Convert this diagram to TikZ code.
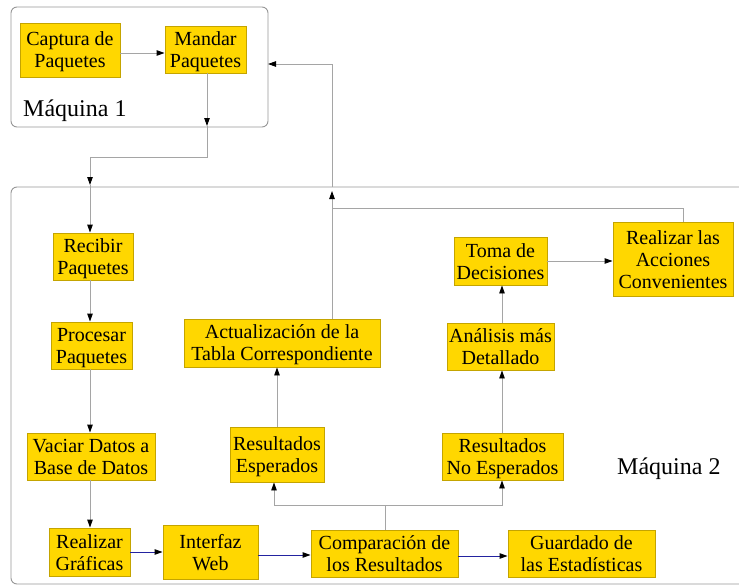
\documentclass[tikz,border=0pt]{standalone}
\usepackage{fontspec}
\usepackage{array}
\setmainfont{Liberation Serif}
\usetikzlibrary{arrows.meta,calc}

\definecolor{boxfill}{RGB}{255,215,0}
\definecolor{boxline}{RGB}{196,164,0}
\definecolor{wirecol}{RGB}{165,165,165}
\definecolor{framecol}{RGB}{150,150,150}
\definecolor{flowcol}{RGB}{35,35,160}

% every text line of a box gets the same height and depth
\newcolumntype{Q}{>{\rule[-4pt]{0pt}{22pt}}c}
\newcommand\boxtext[1]{{\renewcommand\arraystretch{0}%
  \begin{tabular}{@{}Q@{}}#1\end{tabular}}}

\tikzset{
  proc/.style={draw=boxline, fill=boxfill, line width=0.9pt, inner sep=0pt,
    font=\fontsize{20}{22}\selectfont},
  wire/.style={draw=wirecol, line width=0.9pt},
  flow/.style={draw=flowcol, line width=0.9pt},
  tip/.style={-{Triangle[length=8pt,width=5.5pt,color=black]}},
  cluster/.style={draw=framecol, line width=0.9pt, rounded corners=6pt},
  clusterlabel/.style={font=\fontsize{24}{28}\selectfont, anchor=base west, inner sep=0pt}
}

\begin{document}
\begin{tikzpicture}[x=1pt,y=-1pt]
\clip (0,0) rectangle (739,586);

% machine frames
\draw[cluster] (11,7) rectangle (268,127);
\draw[cluster] (11,187) rectangle (780,584);
\node[clusterlabel] (lab1) at (23,117) {Máquina 1};
\node[clusterlabel] (lab2) at (617,474) {Máquina 2};

% machine 1
\node[proc, minimum width=100pt, minimum height=54pt] (cap) at (70,50) {\boxtext{Captura de\\Paquetes}};
\node[proc, minimum width=81pt, minimum height=47pt] (man) at (205.5,49.5) {\boxtext{Mandar\\Paquetes}};

% machine 2
\node[proc, minimum width=80pt, minimum height=47pt] (rec) at (93,256.5) {\boxtext{Recibir\\Paquetes}};
\node[proc, minimum width=81pt, minimum height=47pt] (pro) at (91.5,345.5) {\boxtext{Procesar\\Paquetes}};
\node[proc, minimum width=128pt, minimum height=47pt] (vac) at (91,456.5) {\boxtext{Vaciar Datos a\\Base de Datos}};
\node[proc, minimum width=81pt, minimum height=48pt] (rea) at (89.5,552) {\boxtext{Realizar\\Gráficas}};
\node[proc, minimum width=95pt, minimum height=54pt] (web) at (210.5,552) {\boxtext{Interfaz\\Web}};
\node[proc, minimum width=147pt, minimum height=47pt] (com) at (384.5,553.5) {\boxtext{Comparación de\\los Resultados}};
\node[proc, minimum width=147pt, minimum height=47pt] (gua) at (581.5,553.5) {\boxtext{Guardado de\\las Estadísticas}};
\node[proc, minimum width=94pt, minimum height=55pt] (esp) at (277,454.5) {\boxtext{Resultados\\Esperados}};
\node[proc, minimum width=121pt, minimum height=47pt] (noe) at (502.5,456.5) {\boxtext{Resultados\\No Esperados}};
\node[proc, minimum width=196pt, minimum height=48pt] (act) at (282,343) {\boxtext{Actualización de la\\Tabla Correspondiente}};
\node[proc, minimum width=107pt, minimum height=47pt] (ana) at (500.5,346.5) {\boxtext{Análisis más\\Detallado}};
\node[proc, minimum width=93pt, minimum height=48pt] (tom) at (500.5,261) {\boxtext{Toma de\\Decisiones}};
\node[proc, minimum width=120pt, minimum height=74pt] (acc) at (673,259) {\boxtext{Realizar las\\Acciones\\Convenientes}};

% routing points
\coordinate (m1bot) at (207,126);
\coordinate (m2top) at (90,185);
\coordinate (m1right) at (268,64);
\coordinate (m2edge) at (332,187);
\coordinate (m2in) at (332,191);
\coordinate (colA) at (90,0);
\coordinate (xE) at (274,0);
\coordinate (xN) at (502,0);
\coordinate (xU) at (332,0);
\coordinate (xR) at (683,0);
\coordinate (split) at (385,505);
\coordinate (join) at (332,208);

% machine 1 connectors
\draw[wire,tip] ([yshift=-3pt]cap.east) -- ([yshift=-3pt]cap.east -| man.west);
\draw[wire,tip] (man.south -| m1bot) -- (m1bot);
\draw[wire,tip] (m1bot) -- ++(0,31) -| (m2top);
\draw[wire,tip] (m2top) -- (rec.north -| colA);

% receiving column
\draw[wire,tip] (rec.south -| colA) -- (pro.north -| colA);
\draw[wire,tip] (pro.south -| colA) -- (vac.north -| colA);
\draw[wire,tip] (vac.south -| colA) -- (rea.north -| colA);

% bottom chain
\draw[flow,tip] (rea.east) -- (rea.east -| web.west);
\draw[flow,tip] ([yshift=-3pt]web.east) -- ([yshift=-3pt]web.east -| com.west);
\draw[flow,tip] ([yshift=-2.5pt]com.east) -- ([yshift=-2.5pt]com.east -| gua.west);

% comparison branches
\draw[wire] (com.north -| split) -- (split);
\draw[wire,tip] (split) -| (esp.south -| xE);
\draw[wire,tip] (split) -| (noe.south -| xN);
\draw[wire,tip] (esp.north) -- (act.south -| esp.north);
\draw[wire,tip] (noe.north -| xN) -- (ana.south -| xN);
\draw[wire,tip] (ana.north -| xN) -- (tom.south -| xN);
\draw[wire,tip] (tom.east) -- (tom.east -| acc.west);

% feedback to machine 1
\draw[wire] (acc.north -| xR) |- (join);
\draw[wire,tip] (act.north -| xU) -- (m2in);
\draw[wire,tip] (m2edge) |- (m1right);
\end{tikzpicture}
\end{document}
